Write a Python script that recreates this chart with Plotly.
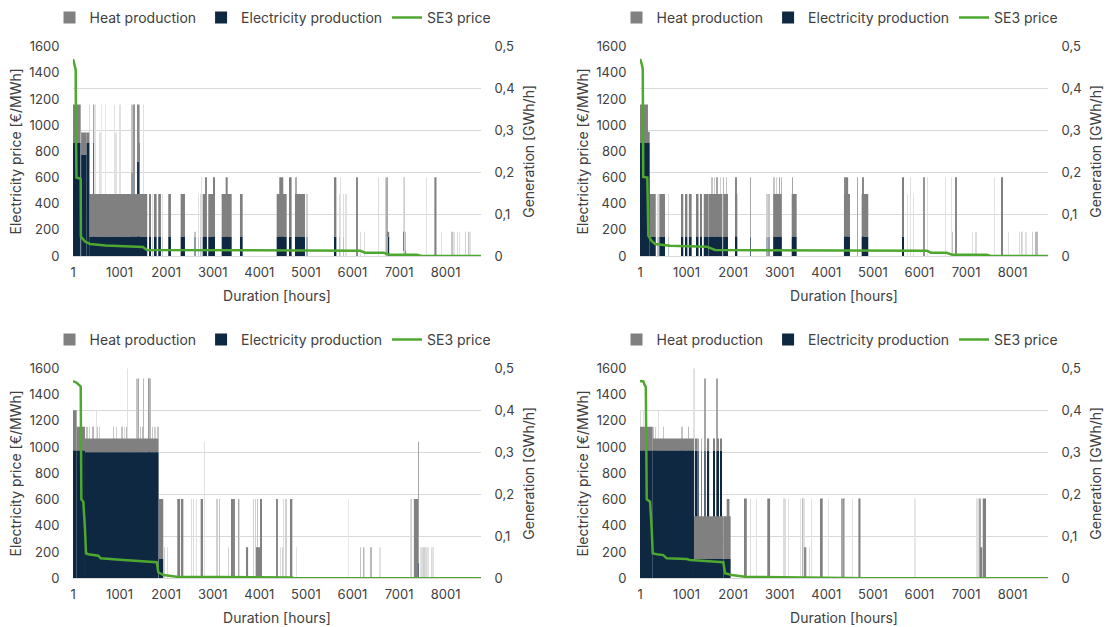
import plotly.graph_objects as go

# ---------------- data ----------------
N_HOURS = 8760
hour_ticks = [1, 1001, 2001, 3001, 4001, 5001, 6001, 7001, 8001]
price_ticks = [0, 200, 400, 600, 800, 1000, 1200, 1400, 1600]
gen_ticks = [0, 0.1, 0.2, 0.3, 0.4, 0.5]
gen_tick_labels = ["0", "0,1", "0,2", "0,3", "0,4", "0,5"]

# ---- top-left panel ----
tl_price_hour = [1, 30, 58, 66, 75, 166, 170, 259, 366, 700, 1200, 1500, 1590, 3500, 6163, 6270, 6664, 6807, 7380, 7488, 8760]
tl_price = [1506, 1465, 1424, 900, 600, 590, 148, 110, 92, 80, 74, 69, 46, 43, 41, 25, 25, 10, 10, 0, 0]
tl_solid_start = [1, 166, 178, 294, 350, 1567, 1638, 1739, 1831, 2046, 2312, 2785, 2905, 3193, 3586, 4374, 4767]
tl_solid_hours = [165, 12, 116, 56, 1197, 28, 30, 58, 58, 58, 93, 70, 144, 215, 58, 215, 215]
tl_solid_elec = [0.27, 0.27, 0.242, 0.27, 0.046, 0.046, 0.046, 0.046, 0.046, 0.046, 0.046, 0.046, 0.046, 0.046, 0.046, 0.046, 0.046]
tl_solid_heat = [0.092, 0.025, 0.053, 0.025, 0.102, 0.102, 0.102, 0.102, 0.102, 0.102, 0.102, 0.102, 0.102, 0.102, 0.102, 0.102, 0.102]
tl_spike_start = [350, 436, 472, 580, 616, 700, 887, 923, 1009, 1260,
                  1295, 1381, 1420, 1510, 1700, 1920, 2619, 2700, 2740, 2760,
                  2850, 3012, 3279, 4430, 4660, 4788, 5018, 5626, 5720, 5750,
                  5800, 5860, 6092, 6170, 6250, 6556, 6700, 6740, 6760, 7095,
                  7100, 7120, 7594, 7760, 7916, 8135, 8180, 8250, 8300, 8420,
                  8490, 8520]
tl_spike_hours = [6, 15, 5, 5, 4, 4, 5, 5, 5, 10,
                  18, 20, 12, 5, 5, 5, 10, 5, 6, 5,
                  20, 36, 43, 85, 35, 14, 8, 30, 6, 5,
                  6, 5, 20, 6, 6, 6, 8, 14, 30, 6,
                  40, 8, 5, 45, 5, 10, 5, 6, 5, 8,
                  10, 5]
tl_spike_elec = [0.27, 0.27, 0.046, 0.046, 0.046, 0.046, 0.046, 0.046, 0.046, 0.2,
                 0.046, 0.226, 0.27, 0.046, 0.046, 0.046, 0.046, 0.046, 0.046, 0.0,
                 0.046, 0.046, 0.046, 0.046, 0.046, 0.046, 0.046, 0.046, 0.046, 0.0,
                 0.046, 0.0, 0.0, 0.0, 0.0, 0.0, 0.0, 0.0, 0.046, 0.0,
                 0.012, 0.0, 0.0, 0.0, 0.0, 0.0, 0.0, 0.0, 0.0, 0.0,
                 0.0, 0.0]
tl_spike_heat = [0.092, 0.092, 0.316, 0.249, 0.316, 0.316, 0.316, 0.249, 0.316, 0.162,
                 0.316, 0.136, 0.092, 0.316, 0.102, 0.102, 0.012, 0.102, 0.102, 0.188,
                 0.142, 0.142, 0.142, 0.142, 0.142, 0.142, 0.102, 0.142, 0.102, 0.188,
                 0.102, 0.148, 0.188, 0.058, 0.058, 0.188, 0.188, 0.188, 0.012, 0.188,
                 0.046, 0.188, 0.188, 0.188, 0.058, 0.058, 0.058, 0.058, 0.058, 0.058,
                 0.058, 0.058]

# ---- top-right panel ----
tr_price_hour = [1, 40, 60, 70, 158, 179, 250, 323, 645, 1000, 1433, 1611, 3500, 6156, 6250, 6585, 6700, 7444, 7530, 8760]
tr_price = [1506, 1465, 1424, 605, 600, 155, 115, 92, 79, 75, 71, 46, 43, 41, 25, 25, 10, 10, 0, 0]
tr_solid_start = [1, 172, 209, 416, 881, 988, 1050, 1218, 1290, 1370, 1470, 1790, 2041, 2863, 3258, 4380, 4760]
tr_solid_hours = [171, 37, 130, 122, 49, 30, 60, 40, 40, 97, 300, 100, 49, 180, 107, 129, 142]
tr_solid_elec = [0.27, 0.27, 0.046, 0.046, 0.046, 0.046, 0.046, 0.046, 0.046, 0.046, 0.046, 0.046, 0.046, 0.046, 0.046, 0.046, 0.046]
tr_solid_heat = [0.092, 0.027, 0.102, 0.102, 0.102, 0.102, 0.102, 0.102, 0.102, 0.102, 0.102, 0.102, 0.102, 0.102, 0.102, 0.102, 0.102]
tr_spike_start = [375, 395, 609, 1540, 1600, 1650, 1720, 1790, 1850, 2050,
                  2363, 2721, 2770, 2870, 2930, 2990, 3030, 3270, 4385, 4440,
                  4666, 4782, 5641, 5740, 5813, 5869, 6083, 6169, 6564, 6693,
                  6700, 6770, 7145, 7210, 7608, 7752, 7908, 8145, 8200, 8215,
                  8288, 8425, 8490, 8515]
tr_spike_hours = [6, 6, 6, 10, 8, 15, 8, 12, 10, 20,
                  15, 8, 10, 10, 8, 15, 12, 15, 20, 30,
                  15, 20, 28, 5, 5, 5, 18, 5, 5, 5,
                  10, 20, 5, 6, 5, 36, 5, 6, 8, 5,
                  5, 8, 12, 12]
tr_spike_elec = [0.046, 0.046, 0.046, 0.046, 0.046, 0.046, 0.046, 0.046, 0.046, 0.046,
                 0.046, 0.046, 0.046, 0.046, 0.046, 0.046, 0.046, 0.046, 0.046, 0.046,
                 0.0, 0.046, 0.046, 0.0, 0.0, 0.0, 0.0, 0.0, 0.0, 0.0,
                 0.0, 0.0, 0.0, 0.0, 0.0, 0.0, 0.0, 0.0, 0.0, 0.0,
                 0.0, 0.0, 0.0, 0.0]
tr_spike_heat = [0.102, 0.102, 0.102, 0.142, 0.142, 0.142, 0.142, 0.142, 0.142, 0.142,
                 0.142, 0.102, 0.102, 0.142, 0.142, 0.142, 0.142, 0.142, 0.142, 0.142,
                 0.188, 0.142, 0.142, 0.148, 0.188, 0.148, 0.188, 0.188, 0.188, 0.188,
                 0.058, 0.188, 0.058, 0.058, 0.188, 0.188, 0.058, 0.058, 0.058, 0.058,
                 0.058, 0.058, 0.058, 0.058]

# ---- bottom-left panel ----
bl_price_hour = [1, 80, 151, 166, 180, 222, 259, 280, 330, 544, 596, 1046, 1081, 1798, 1832, 1940, 2228, 4697, 4750, 8760]
bl_price = [1503, 1490, 1467, 1460, 602, 584, 368, 190, 183, 172, 152, 145, 139, 122, 46, 25, 12, 6, 1, 0]
bl_solid_start = [1, 80, 258, 1847, 2240, 2320, 2742, 3930, 7320]
bl_solid_hours = [79, 178, 1574, 92, 60, 50, 50, 120, 90]
bl_solid_elec = [0.304, 0.304, 0.30, 0.046, 0.0, 0.0, 0.0, 0.0, 0.0]
bl_solid_heat = [0.096, 0.057, 0.033, 0.143, 0.189, 0.189, 0.189, 0.074, 0.189]
bl_spike_start = [300, 350, 420, 510, 570, 870, 930, 1050, 1100, 1150, 1440, 1500, 1700, 1760, 1820,
                  509, 1370, 1400, 1510, 1620, 1650, 1175,
                  1960, 2020, 2550, 2580, 2656, 2814, 3090, 3140, 3340, 3408,
                  3450, 3550, 3580, 3730, 3870, 3910, 3960, 4030, 4374, 4450,
                  4500, 4520, 4560, 4570, 4660, 4790, 5912, 6163, 6230, 6260,
                  6393, 6592, 7240, 7270, 7412, 7455, 7490, 7530, 7580, 7620,
                  7700, 7730]
bl_spike_hours = [10, 8, 12, 10, 8, 10, 8, 10, 6, 12, 10, 12, 10, 8, 10,
                  5, 10, 15, 12, 18, 12, 5,
                  8, 6, 6, 6, 5, 5, 8, 10, 8, 30,
                  20, 15, 6, 30, 8, 8, 10, 22, 20, 6,
                  8, 6, 6, 8, 50, 5, 4, 10, 12, 6,
                  12, 5, 6, 8, 15, 5, 6, 8, 6, 5,
                  6, 5]
bl_spike_elec = [0.30, 0.30, 0.30, 0.30, 0.30, 0.30, 0.30, 0.30, 0.30, 0.30, 0.30, 0.30, 0.30, 0.30, 0.30,
                 0.30, 0.30, 0.30, 0.30, 0.30, 0.30, 0.30,
                 0.0, 0.0, 0.0, 0.0, 0.0, 0.0, 0.0, 0.0, 0.0, 0.0,
                 0.0, 0.0, 0.0, 0.0, 0.0, 0.0, 0.0, 0.0, 0.0, 0.0,
                 0.0, 0.0, 0.0, 0.0, 0.0, 0.0, 0.0, 0.0, 0.0, 0.0,
                 0.0, 0.0, 0.0, 0.0, 0.037, 0.0, 0.0, 0.0, 0.0, 0.0,
                 0.0, 0.0]
bl_spike_heat = [0.061, 0.061, 0.061, 0.061, 0.061, 0.061, 0.061, 0.061, 0.061, 0.061, 0.061, 0.061, 0.061, 0.061, 0.061,
                 0.10, 0.176, 0.176, 0.176, 0.176, 0.176, 0.20,
                 0.074, 0.074, 0.189, 0.189, 0.189, 0.325, 0.189, 0.189, 0.074, 0.189,
                 0.189, 0.189, 0.189, 0.074, 0.189, 0.189, 0.189, 0.189, 0.189, 0.074,
                 0.074, 0.189, 0.074, 0.189, 0.189, 0.074, 0.189, 0.074, 0.074, 0.074,
                 0.074, 0.074, 0.189, 0.189, 0.288, 0.074, 0.074, 0.074, 0.074, 0.074,
                 0.074, 0.074]

# ---- bottom-right panel ----
br_price_hour = [1, 72, 108, 125, 145, 216, 252, 274, 360, 501, 574, 1004, 1074, 1789, 1826, 1970, 2255, 4788, 4850, 8760]
br_price = [1503, 1500, 1467, 1460, 602, 584, 368, 190, 183, 177, 152, 147, 139, 122, 38, 25, 12, 5, 1, 0]
br_solid_start = [1, 274, 1160, 1790, 2234, 2734, 3866, 4690, 7360]
br_solid_hours = [273, 886, 630, 157, 60, 60, 40, 45, 70]
br_solid_elec = [0.304, 0.304, 0.046, 0.046, 0.0, 0.0, 0.0, 0.0, 0.0]
br_solid_heat = [0.057, 0.029, 0.102, 0.102, 0.19, 0.19, 0.19, 0.19, 0.19]
br_spike_start = [5, 80, 400, 290, 330, 501, 895, 1038, 1160, 1183,
                  1240, 1320, 1390, 1446, 1575, 1640, 1660, 1719, 1862, 2370,
                  2506, 3080, 3110, 3185, 3440, 3480, 3500, 3520, 3540, 3580,
                  3630, 3687, 3880, 3910, 4044, 4335, 4366, 4390, 4560, 5905,
                  7232, 7260, 7300, 7300]
br_spike_hours = [6, 5, 5, 10, 8, 10, 10, 12, 5, 30,
                  15, 12, 15, 40, 35, 15, 25, 40, 60, 6,
                  5, 6, 6, 5, 5, 6, 12, 5, 20, 6,
                  6, 5, 30, 15, 5, 15, 18, 10, 5, 4,
                  5, 6, 15, 50]
br_spike_elec = [0.304, 0.304, 0.304, 0.304, 0.304, 0.304, 0.304, 0.304, 0.304, 0.304,
                 0.304, 0.304, 0.304, 0.304, 0.304, 0.304, 0.304, 0.304, 0.046, 0.0,
                 0.0, 0.0, 0.0, 0.0, 0.0, 0.0, 0.0, 0.0, 0.0, 0.0,
                 0.0, 0.0, 0.0, 0.0, 0.0, 0.0, 0.0, 0.0, 0.0, 0.0,
                 0.0, 0.0, 0.0, 0.0]
br_spike_heat = [0.096, 0.096, 0.096, 0.057, 0.057, 0.057, 0.057, 0.057, 0.196, 0.029,
                 0.029, 0.029, 0.172, 0.029, 0.029, 0.172, 0.029, 0.029, 0.143, 0.19,
                 0.19, 0.19, 0.19, 0.19, 0.19, 0.19, 0.19, 0.19, 0.074, 0.074,
                 0.074, 0.19, 0.074, 0.19, 0.19, 0.19, 0.19, 0.19, 0.19, 0.19,
                 0.19, 0.19, 0.19, 0.074]

# ---------------- styling / layout ----------------
FIG_W, FIG_H = 1106, 627
HEAT = "#808080"
ELEC = "#0e2841"
GREEN = "#4ea72e"
GRID = "#d9d9d9"
TEXT = "#404040"
FONT = "Inter, sans-serif"

panels = [
    dict(box=(73, 481, 46.7, 256), leg_y=18,
         solid=(tl_solid_start, tl_solid_hours, tl_solid_elec, tl_solid_heat),
         spike=(tl_spike_start, tl_spike_hours, tl_spike_elec, tl_spike_heat),
         price=(tl_price_hour, tl_price)),
    dict(box=(640, 1048, 46.7, 256), leg_y=18,
         solid=(tr_solid_start, tr_solid_hours, tr_solid_elec, tr_solid_heat),
         spike=(tr_spike_start, tr_spike_hours, tr_spike_elec, tr_spike_heat),
         price=(tr_price_hour, tr_price)),
    dict(box=(73, 481, 368.3, 578.3), leg_y=340,
         solid=(bl_solid_start, bl_solid_hours, bl_solid_elec, bl_solid_heat),
         spike=(bl_spike_start, bl_spike_hours, bl_spike_elec, bl_spike_heat),
         price=(bl_price_hour, bl_price)),
    dict(box=(640, 1048, 368.3, 578.3), leg_y=340,
         solid=(br_solid_start, br_solid_hours, br_solid_elec, br_solid_heat),
         spike=(br_spike_start, br_spike_hours, br_spike_elec, br_spike_heat),
         price=(br_price_hour, br_price)),
]


def shade(hex_color, coverage):
    """Colour of a bar that covers only part of a pixel column (anti-aliasing)."""
    c = max(0.0, min(1.0, coverage))
    r, g, b = (int(hex_color[i:i + 2], 16) for i in (1, 3, 5))
    return "rgb({},{},{})".format(round(255 - (255 - r) * c), round(255 - (255 - g) * c), round(255 - (255 - b) * c))


def ref(kind, n):
    return kind if n == 1 else f"{kind}{n}"


def key(kind, n):
    return f"{kind}axis" if n == 1 else f"{kind}axis{n}"


fig = go.Figure()
layout = dict(width=FIG_W, height=FIG_H, margin=dict(l=0, r=0, t=0, b=0),
              paper_bgcolor="white", plot_bgcolor="rgba(0,0,0,0)",
              barmode="overlay", font=dict(family=FONT, color=TEXT, size=13),
              hovermode=False)

for i, p in enumerate(panels):
    n = i + 1
    left, right, top, bottom = p["box"]
    px_per_hour = (right - left) / N_HOURS
    xr = ref("x", n)
    yb = ref("y", 2 * n - 1)
    yp = ref("y", 2 * n)
    leg = "legend" if n == 1 else f"legend{n}"

    def bar_traces(data, show_legend):
        start, hours, elec, heat = data
        xs = [s + h / 2 - 0.5 for s, h in zip(start, hours)]
        e_idx = [k for k in range(len(start)) if elec[k] > 0]
        h_idx = [k for k in range(len(start)) if heat[k] > 0]
        t_elec = go.Bar(
            x=[xs[k] for k in e_idx], y=[elec[k] for k in e_idx], base=[0] * len(e_idx),
            width=[hours[k] for k in e_idx],
            marker=dict(color=[shade(ELEC, hours[k] * px_per_hour) for k in e_idx], line=dict(width=0)),
            name="Electricity production", showlegend=show_legend, legend=leg,
            xaxis=xr, yaxis=yb)
        t_heat = go.Bar(
            x=[xs[k] for k in h_idx], y=[heat[k] for k in h_idx], base=[elec[k] for k in h_idx],
            width=[hours[k] for k in h_idx],
            marker=dict(color=[shade(HEAT, hours[k] * px_per_hour) for k in h_idx], line=dict(width=0)),
            name="Heat production", showlegend=show_legend, legend=leg,
            xaxis=xr, yaxis=yb)
        return t_elec, t_heat

    se, sh = bar_traces(p["spike"], False)
    fig.add_trace(se)
    fig.add_trace(sh)
    be, bh = bar_traces(p["solid"], True)
    fig.add_trace(bh)
    fig.add_trace(be)
    ph, pv = p["price"]
    fig.add_trace(go.Scatter(x=ph, y=pv, mode="lines", line=dict(color=GREEN, width=2.5),
                             name="SE3 price", legend=leg, xaxis=xr, yaxis=yp))

    layout[key("x", n)] = dict(
        domain=[left / FIG_W, right / FIG_W], range=[0.5, N_HOURS + 0.5], anchor=yb,
        tickvals=hour_ticks, ticks="outside", ticklen=4, tickcolor="rgba(0,0,0,0)",
        showgrid=False, zeroline=False, showline=True, linecolor=GRID, linewidth=1,
        tickfont=dict(size=13, color=TEXT), automargin=False, fixedrange=True,
        title=dict(text="Duration [hours]", standoff=12, font=dict(size=14, color=TEXT)))
    layout[key("y", 2 * n - 1)] = dict(
        domain=[1 - bottom / FIG_H, 1 - top / FIG_H], range=[0, 0.5], anchor=xr, side="right",
        tickvals=gen_ticks, ticktext=gen_tick_labels, ticks="outside", ticklen=10,
        tickcolor="rgba(0,0,0,0)", showgrid=True, gridcolor=GRID, gridwidth=1, zeroline=False,
        tickfont=dict(size=13, color=TEXT), automargin=False, fixedrange=True,
        title=dict(text="Generation [GWh/h]", standoff=10, font=dict(size=14, color=TEXT)))
    layout[key("y", 2 * n)] = dict(
        overlaying=yb, anchor=xr, side="left", range=[0, 1600], tickvals=price_ticks,
        ticks="outside", ticklen=10, tickcolor="rgba(0,0,0,0)", showgrid=False, zeroline=False,
        tickfont=dict(size=13, color=TEXT), automargin=False, fixedrange=True,
        title=dict(text="Electricity price [€/MWh]", standoff=4, font=dict(size=14, color=TEXT)))
    layout[leg] = dict(
        orientation="h", x=((left + right) / 2 - 4) / FIG_W, xanchor="center",
        y=1 - p["leg_y"] / FIG_H, yanchor="middle", bgcolor="rgba(0,0,0,0)",
        font=dict(size=14, color=TEXT), traceorder="normal", itemwidth=30)

fig.update_layout(**layout)
fig.write_html("out.html")
